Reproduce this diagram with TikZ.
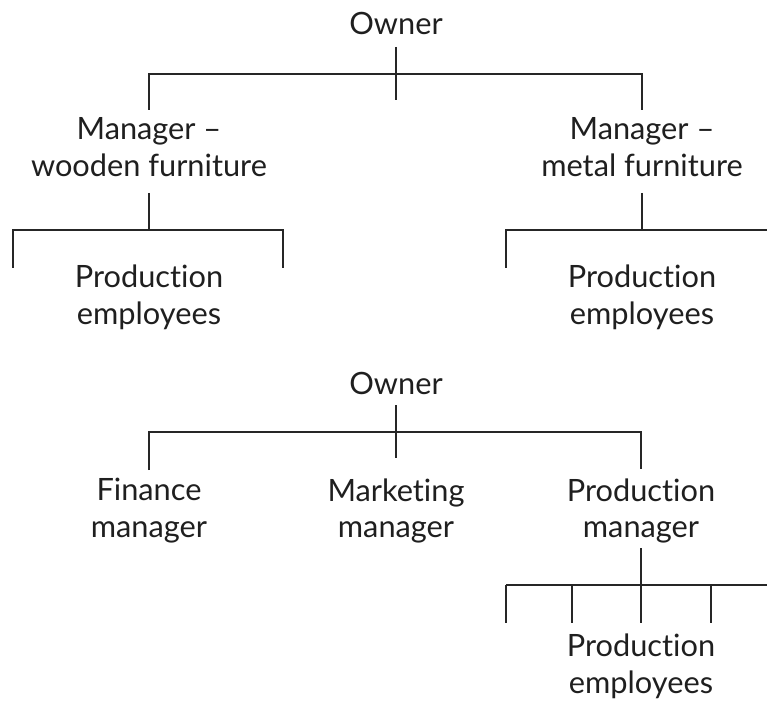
\documentclass[tikz,border=0pt]{standalone}
\usepackage{fontspec}
\setmainfont[Ligatures=NoCommon]{Lato}
\usetikzlibrary{positioning}
\tikzset{
  post/.style  = {align=center, inner sep=0pt, text=black!88,
                  font=\fontsize{17.5}{21}\selectfont},
  link/.style  = {line width=1.1pt, black!85}
}

\begin{document}
\begin{tikzpicture}[x=0.02cm, y=-0.02cm]
  \useasboundingbox (0,0) rectangle (767,702);

  %% -- Chart 1: by product ------------------------------------------
  \node[post] (ownA)  at (396, 23)  {Owner};
  \node[post] (wood)  at (149,147)  {Manager --\\wooden furniture};
  \node[post] (metal) at (642,147)  {Manager --\\metal furniture};
  \node[post] (empW)  at (149,297)  {Production\\employees};
  \node[post] (empM)  at (642,297)  {Production\\employees};

  % owner -> managers
  \coordinate (ownAtop) at (396, 47);
  \coordinate (ownAbot) at (396,100);
  \coordinate (barAl)   at (149, 74);
  \coordinate (barAr)   at (642, 74);
  \draw[link] (ownAtop) -- (ownAbot);
  \draw[link] (wood.north |- 0,110) -- (barAl) -- (barAr) -- (metal.north |- 0,110);

  % wooden manager -> employees
  \coordinate (woodTop) at (149,193);
  \coordinate (barWl)   at ( 13,230);
  \coordinate (barWr)   at (283,230);
  \draw[link] (woodTop) -- (woodTop |- barWl);
  \draw[link] (13,268) -- (barWl) -- (barWr) -- (283,268);

  % metal manager -> employees
  \coordinate (metTop) at (642,193);
  \coordinate (barMl)  at (506,230);
  \coordinate (barMr)  at (767,230);
  \draw[link] (metTop) -- (metTop |- barMl);
  \draw[link] (506,268) -- (barMl) -- (barMr);

  %% -- Chart 2: by function -----------------------------------------
  \node[post] (ownB) at (396,383)  {Owner};
  \node[post] (fin)  at (149,511)  {Finance\\manager};
  \node[post] (mkt)  at (396,511)  {Marketing\\manager};
  \node[post] (prod) at (641,511)  {Production\\manager};
  \node[post] (empP) at (641,666)  {Production\\employees};

  % owner -> managers
  \coordinate (ownBtop) at (396,405);
  \coordinate (ownBbot) at (396,458);
  \coordinate (barBl)   at (149,432);
  \coordinate (barBr)   at (641,432);
  \draw[link] (ownBtop) -- (ownBbot);
  \draw[link] (149,470) -- (barBl) -- (barBr) -- (641,469);

  % production manager -> employees
  \coordinate (prodTop) at (641,548);
  \coordinate (barPl)   at (506,585);
  \coordinate (barPr)   at (767,585);
  \draw[link] (prodTop) -- (prodTop |- barPl);
  \draw[link] (barPl) -- (barPr);
  \foreach \x in {506,572,641,711}
    \draw[link] (\x,585) -- (\x,623);

\end{tikzpicture}
\end{document}
